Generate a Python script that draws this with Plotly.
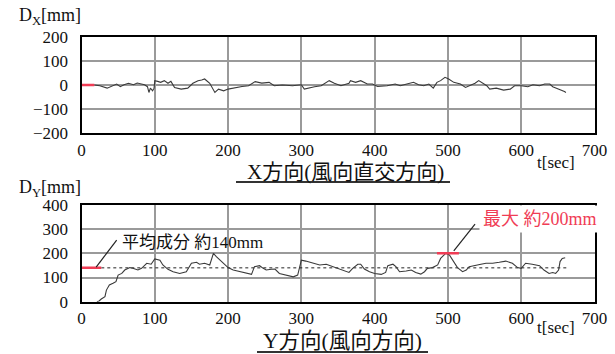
import plotly.graph_objects as go

# ---------------- data ----------------
tx = [17.5, 25, 35, 42, 48, 53, 58, 64, 71, 76, 80, 86, 90, 92, 94, 97, 99, 100, 104, 108, 113, 118,
      122, 127, 136, 145, 152, 159, 164, 168, 175, 182, 187, 194, 200, 210, 219, 228, 237, 246, 256,
      263, 274, 288, 300, 304, 309, 318, 327, 333, 338, 345, 354, 365, 367, 374, 381, 390, 397, 404,
      417, 428, 435, 444, 453, 460, 467, 474, 480, 485, 490, 496, 501, 508, 517, 524, 530, 537, 542,
      546, 553, 557, 566, 576, 585, 591, 600, 609, 616, 625, 632, 639, 643, 648, 652, 659, 661]
dx = [0, -3, -13, -4, 4, -7, 1, 7, 1, 8, 4, 1, -7, -31, -13, -24, -13, 18, 15, 11, 18, 7,
      15, -10, -17, -13, 7, 18, 21, 25, 7, -31, -17, -24, -17, -10, -6, -3, 14, 8, 11,
      -3, 0, -3, 1, -17, -13, -7, -3, 8, 18, 7, -3, 7, 18, 11, 18, 4, 4, -6,
      -3, 4, -3, 4, 11, 1, -3, 4, -13, 11, 18, 32, 25, 11, 4, -10, -3, 7, 18,
      11, -3, -17, -13, -21, -17, -3, -3, -7, 1, -3, 4, 4, -7, -13, -17, -27, -31]

ty = [21, 24, 27, 32, 34, 38, 43, 47, 50, 55, 59, 66, 70, 77, 82, 89, 95, 100, 107, 111, 118, 125,
      134, 143, 150, 157, 161, 168, 175, 180, 184, 191, 200, 207, 216, 225, 232, 236, 243, 248, 252,
      259, 264, 270, 280, 289, 295, 300, 306, 315, 325, 334, 343, 352, 361, 365, 370, 377, 381, 386,
      393, 400, 409, 415, 418, 425, 429, 434, 443, 450, 456, 463, 468, 472, 479, 486, 490, 497, 502,
      506, 513, 520, 525, 529, 538, 545, 552, 561, 570, 579, 588, 595, 600, 606, 615, 625, 631, 638,
      643, 647, 651, 653, 656, 660]
dy = [0, 3, 11, 21, 48, 69, 76, 83, 110, 117, 131, 141, 138, 131, 138, 159, 155, 177, 172, 152, 134, 124,
      117, 124, 159, 163, 155, 159, 152, 200, 186, 168, 141, 131, 124, 117, 113, 145, 149, 138, 131,
      134, 135, 117, 110, 103, 110, 172, 168, 159, 152, 155, 145, 135, 124, 121, 138, 155, 155, 135,
      124, 117, 113, 121, 149, 155, 145, 124, 127, 131, 121, 114, 124, 138, 141, 152, 179, 200, 193,
      172, 141, 124, 131, 145, 149, 155, 159, 159, 163, 168, 159, 141, 138, 159, 155, 149, 131, 117,
      121, 117, 131, 166, 179, 182]

x_red_t = [0, 17.5]        # red marker at start of X series (value 0)
x_red_v = [0, 0]
mean_red_t = [0, 27]       # red marker at mean level
mean_v = 140
mean_line_t = [27, 662]    # dotted mean line
peak_t = [485, 515]        # red peak marker
peak_v = 200
lead1_t = [20, 48]         # leader line for mean label
lead1_v = [143, 255]
lead2_t = [508, 537]       # leader line for peak label
lead2_v = [210, 321]

x_ticks = [0, 100, 200, 300, 400, 500, 600, 700]
ytop_ticks = [-200, -100, 0, 100, 200]
ybot_ticks = [0, 100, 200, 300, 400]

# ---------------- figure ----------------
W, H = 615, 354
def px(x): return x / W
def py(y): return 1 - y / H

SERIF = "'Liberation Serif', 'Times New Roman', 'DejaVu Serif', 'Noto Sans CJK JP', serif"
RED = "#f03c55"
LINE = "#3a3a3a"
GRID = "#9a9a9a"

fig = go.Figure()

fig.add_trace(go.Scatter(x=tx, y=dx, mode="lines", line=dict(color=LINE, width=1.1),
                         xaxis="x", yaxis="y", showlegend=False))
fig.add_trace(go.Scatter(x=x_red_t, y=x_red_v, mode="lines", line=dict(color=RED, width=2.5),
                         xaxis="x", yaxis="y", showlegend=False))

fig.add_trace(go.Scatter(x=mean_line_t, y=[mean_v, mean_v], mode="lines",
                         line=dict(color="#222", width=1, dash="dot"),
                         xaxis="x2", yaxis="y2", showlegend=False))
fig.add_trace(go.Scatter(x=ty, y=dy, mode="lines", line=dict(color=LINE, width=1.1),
                         xaxis="x2", yaxis="y2", showlegend=False))
fig.add_trace(go.Scatter(x=mean_red_t, y=[mean_v, mean_v], mode="lines", line=dict(color=RED, width=2.5),
                         xaxis="x2", yaxis="y2", showlegend=False))
fig.add_trace(go.Scatter(x=peak_t, y=[peak_v, peak_v], mode="lines", line=dict(color=RED, width=2.5),
                         xaxis="x2", yaxis="y2", showlegend=False))
fig.add_trace(go.Scatter(x=lead1_t, y=lead1_v, mode="lines", line=dict(color="#222", width=1.2),
                         xaxis="x2", yaxis="y2", showlegend=False))
fig.add_trace(go.Scatter(x=lead2_t, y=lead2_v, mode="lines", line=dict(color="#222", width=1.2),
                         xaxis="x2", yaxis="y2", showlegend=False))

xdom = [px(81.5), px(594.5)]
axis_common = dict(showline=True, linecolor="black", linewidth=2, mirror=True,
                   showgrid=True, gridcolor=GRID, gridwidth=1.5, zeroline=False,
                   automargin=False,
                   ticks="", tickfont=dict(family=SERIF, size=17, color="#111"))

fig.update_layout(
    width=W, height=H, margin=dict(l=0, r=0, t=0, b=0, pad=0, autoexpand=False),
    paper_bgcolor="white", plot_bgcolor="white",
    font=dict(family=SERIF),
    xaxis=dict(domain=xdom, range=[0, 700], tickvals=x_ticks, anchor="y",
               ticklabelstandoff=0, **axis_common),
    yaxis=dict(domain=[py(133.3), py(36.7)], range=[-200, 200], tickvals=ytop_ticks,
               anchor="x", ticklabelstandoff=8, **axis_common),
    xaxis2=dict(domain=xdom, range=[0, 700], tickvals=x_ticks, anchor="y2",
                ticklabelstandoff=0, **axis_common),
    yaxis2=dict(domain=[py(301.7), py(205)], range=[0, 400], tickvals=ybot_ticks,
                anchor="x2", ticklabelstandoff=8, **axis_common),
)

ann = []
ann.append(dict(text="D<sub>X</sub>[mm]", x=px(17), y=py(17), xref="paper", yref="paper",
                xanchor="left", yanchor="middle", showarrow=False,
                font=dict(family=SERIF, size=18, color="#111")))
ann.append(dict(text="D<sub>Y</sub>[mm]", x=px(17), y=py(188), xref="paper", yref="paper",
                xanchor="left", yanchor="middle", showarrow=False,
                font=dict(family=SERIF, size=18, color="#111")))
for yy in (162, 327):
    ann.append(dict(text="t[sec]", x=px(556), y=py(yy), xref="paper", yref="paper",
                    xanchor="center", yanchor="middle", showarrow=False,
                    font=dict(family=SERIF, size=17, color="#111")))
ann.append(dict(text="X方向(風向直交方向)", x=px(345), y=py(172), xref="paper", yref="paper",
                xanchor="center", yanchor="middle", showarrow=False,
                font=dict(family=SERIF, size=21, color="#111")))
ann.append(dict(text="Y方向(風向方向)", x=px(342.5), y=py(341), xref="paper", yref="paper",
                xanchor="center", yanchor="middle", showarrow=False,
                font=dict(family=SERIF, size=21.5, color="#111")))
ann.append(dict(text="平均成分 約140mm", x=52, y=243, xref="x2", yref="y2",
                xanchor="left", yanchor="middle", showarrow=False,
                font=dict(family=SERIF, size=17, color="#111")))
ann.append(dict(text="最大 約200mm", x=px(479), y=py(219), xref="paper", yref="paper",
                xanchor="left", yanchor="middle", showarrow=False, bgcolor="white", borderpad=3,
                font=dict(family=SERIF, size=18, color=RED)))
fig.update_layout(annotations=ann)

fig.update_layout(shapes=[
    dict(type="line", xref="paper", yref="paper", x0=px(236), x1=px(450), y0=py(182), y1=py(182),
         line=dict(color="#333", width=2)),
    dict(type="line", xref="paper", yref="paper", x0=px(257), x1=px(428), y0=py(352), y1=py(352),
         line=dict(color="#333", width=2)),
])

fig.write_html("out.html")
